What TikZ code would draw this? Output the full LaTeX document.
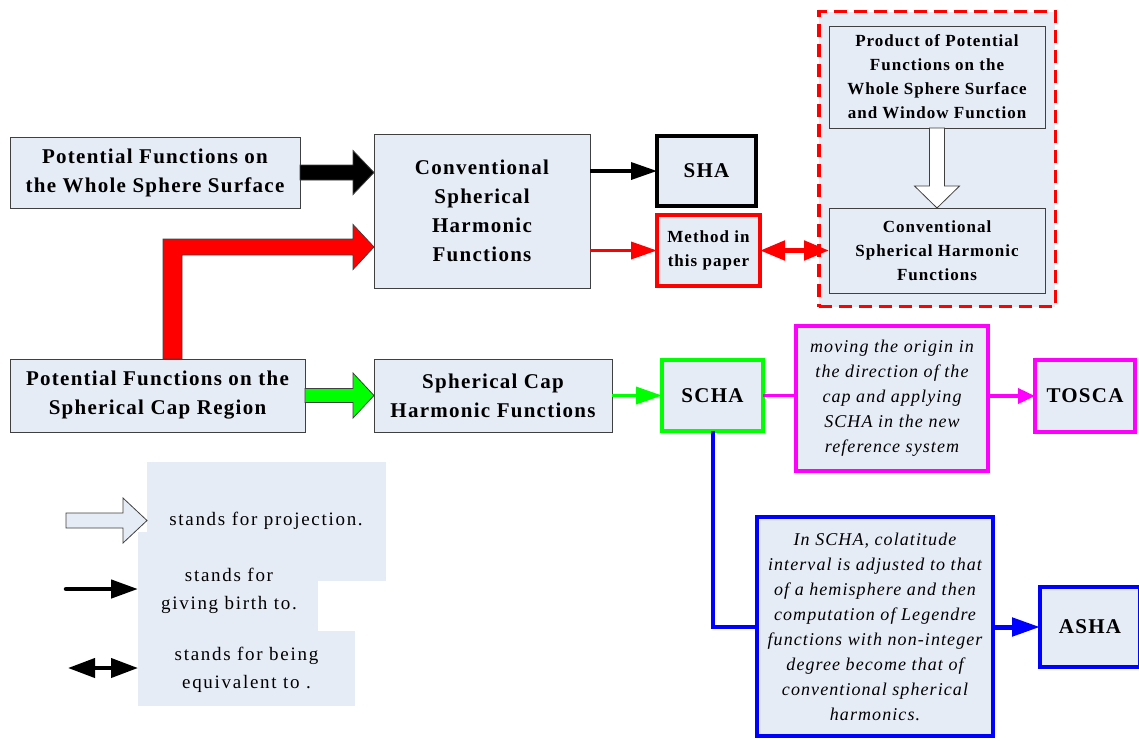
\documentclass[tikz,border=0pt]{standalone}
\usepackage{fontspec}
\setmainfont{Liberation Serif}[LetterSpace=6]
\usetikzlibrary{arrows.meta,calc}
\definecolor{boxfill}{RGB}{230,236,246}
\definecolor{edge}{RGB}{64,64,64}
\definecolor{mag}{RGB}{255,0,255}
\definecolor{grn}{RGB}{0,255,0}
\definecolor{blu}{RGB}{0,0,255}
\definecolor{rd}{RGB}{255,0,0}
\tikzset{
  every node/.style={inner sep=0pt, outer sep=0pt},
  plainbox/.style={draw=edge, line width=1pt, fill=boxfill, align=center,
    font=\fontsize{21}{29}\selectfont\bfseries},
  smallbox/.style={draw=edge, line width=1pt, fill=boxfill, align=center,
    font=\fontsize{17}{24}\selectfont\bfseries},
  heavybox/.style={fill=boxfill, line width=4pt, align=center,
    font=\fontsize{21}{29}\selectfont\bfseries},
  italbox/.style={fill=boxfill, line width=4pt, align=center,
    font=\fontsize{18}{25}\selectfont\itshape},
  legtext/.style={align=center, font=\fontsize{19}{28}\selectfont\addfontfeature{LetterSpace=9}},
  blockedge/.style={draw=edge, line width=0.8pt, line join=miter},
  tipA/.style={-{Triangle[length=26pt,width=17pt]}},
}
% horizontal block arrow: start, end, shaft half, head half, head length, fill
\newcommand\blockH[6]{%
  \draw[blockedge, fill=#6] ($(#1)+(0,-#3)$) -- ($(#2)+(-#5,-#3)$) -- ($(#2)+(-#5,-#4)$) -- (#2)
    -- ($(#2)+(-#5,#4)$) -- ($(#2)+(-#5,#3)$) -- ($(#1)+(0,#3)$) -- cycle;}
% vertical (downward) block arrow
\newcommand\blockV[6]{%
  \draw[blockedge, fill=#6] ($(#1)+(-#3,0)$) -- ($(#2)+(-#3,-#5)$) -- ($(#2)+(-#4,-#5)$) -- (#2)
    -- ($(#2)+(#4,-#5)$) -- ($(#2)+(#3,-#5)$) -- ($(#1)+(#3,0)$) -- cycle;}
\begin{document}
\begin{tikzpicture}[x=1pt, y=-1pt]
\useasboundingbox (0,0) rectangle (1139,740);

% main boxes
\node[plainbox, minimum width=290, minimum height=71] (A) at (155,172.5) {Potential Functions on\\the Whole Sphere Surface};
\node[plainbox, minimum width=216, minimum height=154] (B) at (482,211) {Conventional\\Spherical\\Harmonic\\Functions};
\node[plainbox, minimum width=295, minimum height=73] (C) at (157.5,395.5) {Potential Functions on the\\Spherical Cap Region};
\node[plainbox, minimum width=238, minimum height=73] (D) at (493,395.5) {Spherical Cap\\Harmonic Functions};

\node[heavybox, draw=black, minimum width=99, minimum height=70] (SHA) at (706.5,171) {SHA};
\node[heavybox, draw=rd, minimum width=103, minimum height=71, font=\fontsize{17}{24}\selectfont\bfseries] (M) at (708.5,250.5) {Method in\\this paper};

% dashed container
\node[draw=rd, fill=boxfill, line width=3.5pt, dash pattern=on 13pt off 7pt, minimum width=236.5, minimum height=295] (W) at (937,159) {};
\node[smallbox, minimum width=216, minimum height=102] (P) at (937,77) {Product of Potential\\Functions on the\\Whole Sphere Surface\\and Window Function};
\node[smallbox, minimum width=216, minimum height=85] (I) at (937,250.5) {Conventional\\Spherical Harmonic\\Functions};

\node[heavybox, draw=grn, minimum width=101, minimum height=71] (S) at (712.5,395.5) {SCHA};
\node[italbox, draw=mag, minimum width=192, minimum height=145] (Mv) at (892,398.5) {moving the origin in\\the direction of the\\cap and applying\\SCHA in the new\\reference system};
\node[heavybox, draw=mag, minimum width=100, minimum height=72] (T) at (1085,396) {TOSCA};
\node[italbox, draw=blu, minimum width=236, minimum height=219] (Q) at (875,626.5) {In SCHA, colatitude\\interval is adjusted to that\\of a hemisphere and then\\computation of Legendre\\functions with non-integer\\degree become that of\\conventional spherical\\harmonics.};
\node[heavybox, draw=blu, minimum width=100, minimum height=80] (Ah) at (1090,627) {ASHA};

% block arrows
\blockH{A.east}{B.west |- A.east}{7.5}{22}{21}{black}
\blockH{C.east}{D.west |- C.east}{7}{22.5}{21}{grn}
\coordinate (rt) at ($(B.west)+(0,36)$);
\draw[blockedge, fill=rd] ($(C.north)+(5.5,0)$) -- ($(C.north |- rt)+(5.5,-8)$) -- ($(rt)+(-21,-8)$)
  -- ($(rt)+(-21,-22.5)$) -- (rt) -- ($(rt)+(-21,22.5)$) -- ($(rt)+(-21,8)$)
  -- ($(C.north |- rt)+(24.5,8)$) -- ($(C.north)+(24.5,0)$) -- cycle;
\blockV{P.south}{I.north}{7.5}{22.5}{22}{white}

% line arrows
\draw[line width=3.5pt, tipA] (B.east |- SHA.west) -- (SHA.west);
\draw[rd, line width=3.5pt, tipA] (B.east |- M.west) -- (M.west);
\draw[rd, line width=5pt, {Triangle[length=25pt,width=19pt]}-{Triangle[length=25pt,width=19pt]}] (M.east) -- (I.west |- M.east);
\draw[grn, line width=3.5pt, -{Triangle[length=26pt,width=17pt]}] (D.east) -- (S.west);
\draw[mag, line width=3.5pt] (S.east) -- (Mv.west |- S.east);
\draw[mag, line width=3.5pt, -{Triangle[length=17pt,width=15pt]}] (Mv.east |- T.west) -- (T.west);
\draw[blu, line width=4pt] (S.south) |- (Q.west);
\draw[blu, line width=5pt, -{Triangle[length=28pt,width=18pt]}] (Q.east |- Ah.west) -- (Ah.west);

% legend
\fill[boxfill] (147,462) rectangle (386,581);
\fill[boxfill] (138,532) rectangle (318,631);
\fill[boxfill] (138,631) rectangle (355,706);
\node[legtext] (L1) at (266,521) {stands for projection.};
\node[legtext] (L2) at (229,591) {stands for\\giving birth to.};
\node[legtext] (L3) at (246.5,669.5) {stands for being\\equivalent to .};
\coordinate (lp1) at (66,520.5);
\coordinate (lp2) at (147,520.5);
\blockH{lp1}{lp2}{7.5}{22.5}{24}{boxfill}
\coordinate (lb1) at (66,589);
\coordinate (lb2) at (138,589);
\draw[line width=4.5pt, line cap=round, -{Triangle[length=27pt,width=18pt]}] (lb1) -- (lb2);
\coordinate (ld1) at (68,668);
\coordinate (ld2) at (138,668);
\draw[line width=4pt, {Triangle[length=27pt,width=19pt]}-{Triangle[length=27pt,width=19pt]}] (ld1) -- (ld2);
\end{tikzpicture}
\end{document}
